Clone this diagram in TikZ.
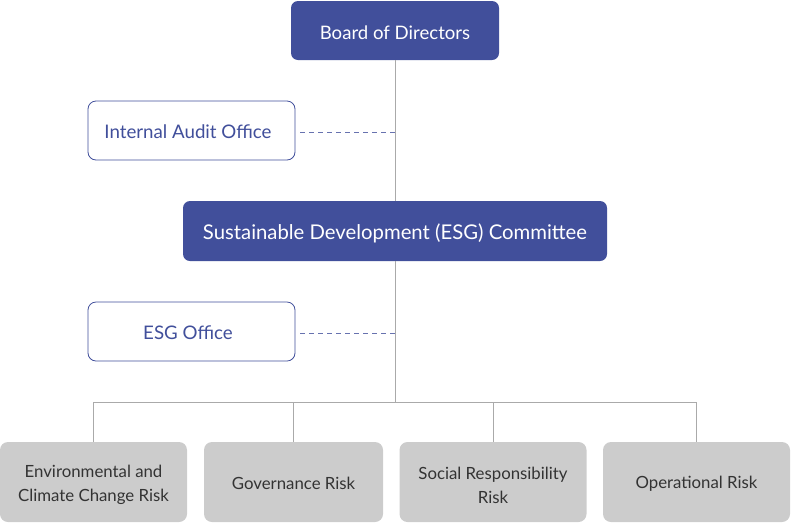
\documentclass[tikz,border=0pt]{standalone}
\usepackage{fontspec}
\setmainfont{Lato}
\definecolor{navy}{HTML}{414F9B}
\definecolor{boxgray}{HTML}{CCCCCC}
\definecolor{linegray}{HTML}{AAAAAA}
\definecolor{txtgray}{HTML}{333333}
\newcommand{\lowerby}[2]{\raisebox{-#1}[\height][\depth]{#2}}
\begin{document}
\begin{tikzpicture}[x=1pt,y=-1pt,
  topbox/.style={draw=none,fill=navy,rounded corners=7pt,text=white,inner sep=0pt},
  officebox/.style={draw=navy,fill=white,line width=0.8pt,rounded corners=8pt,text=navy,font=\fontsize{18.7}{22}\selectfont,inner sep=0pt,minimum width=207pt,minimum height=59pt},
  riskbox/.style={fill=boxgray,rounded corners=8pt,text=txtgray,font=\fontsize{16.8}{24}\selectfont,inner sep=0pt,minimum height=80pt,align=center},
  conn/.style={draw=linegray,line width=0.8pt},
  dashconn/.style={draw=navy!80,line width=0.8pt,dash pattern=on 5pt off 4pt}]
\useasboundingbox (0,0) rectangle (791,523);
\node[topbox,font=\fontsize{18.6}{22}\selectfont,minimum width=208pt,minimum height=59pt] (bod) at (395,30.5) {\lowerby{2pt}{Board of Directors}};
\node[officebox] (iao) at (191.5,130.5) {\lowerby{1pt}{Internal Audit Office}\hspace*{7pt}};
\node[topbox,font=\fontsize{20.3}{24}\selectfont,minimum width=424pt,minimum height=60pt] (esgc) at (395,231) {\lowerby{2pt}{Sustainable Development (ESG) Committee}};
\node[officebox] (esgo) at (191.5,331.5) {\lowerby{1.5pt}{ESG Office}\hspace*{7pt}};
\node[riskbox,minimum width=187pt] (r1) at (93.5,482) {\lowerby{3pt}{\parbox{187pt}{\centering Environmental and\\Climate Change Risk}}};
\node[riskbox,minimum width=179pt] (r2) at (293.5,482) {\lowerby{1.5pt}{Governance Risk}};
\node[riskbox,minimum width=187pt] (r3) at (493,482) {\lowerby{3pt}{\parbox{187pt}{\centering Social Responsibility\\Risk}}};
\node[riskbox,minimum width=187pt] (r4) at (696.5,482) {\lowerby{1.5pt}{Operational Risk}};
\coordinate (hub) at (395,402);
\coordinate (d1) at (395,132);
\coordinate (d2) at (395,333);
\draw[conn] (bod.south) -- (esgc.north);
\draw[conn] (esgc.south) -- (hub);
\draw[conn] (r1.north) |- (hub) -| (r4.north);
\draw[conn] (r2.north) -- (r2.north |- hub);
\draw[conn] (r3.north) -- (r3.north |- hub);
\draw[dashconn] ([xshift=5pt]iao.east |- d1) -- (d1);
\draw[dashconn] ([xshift=5pt]esgo.east |- d2) -- (d2);
\end{tikzpicture}
\end{document}
